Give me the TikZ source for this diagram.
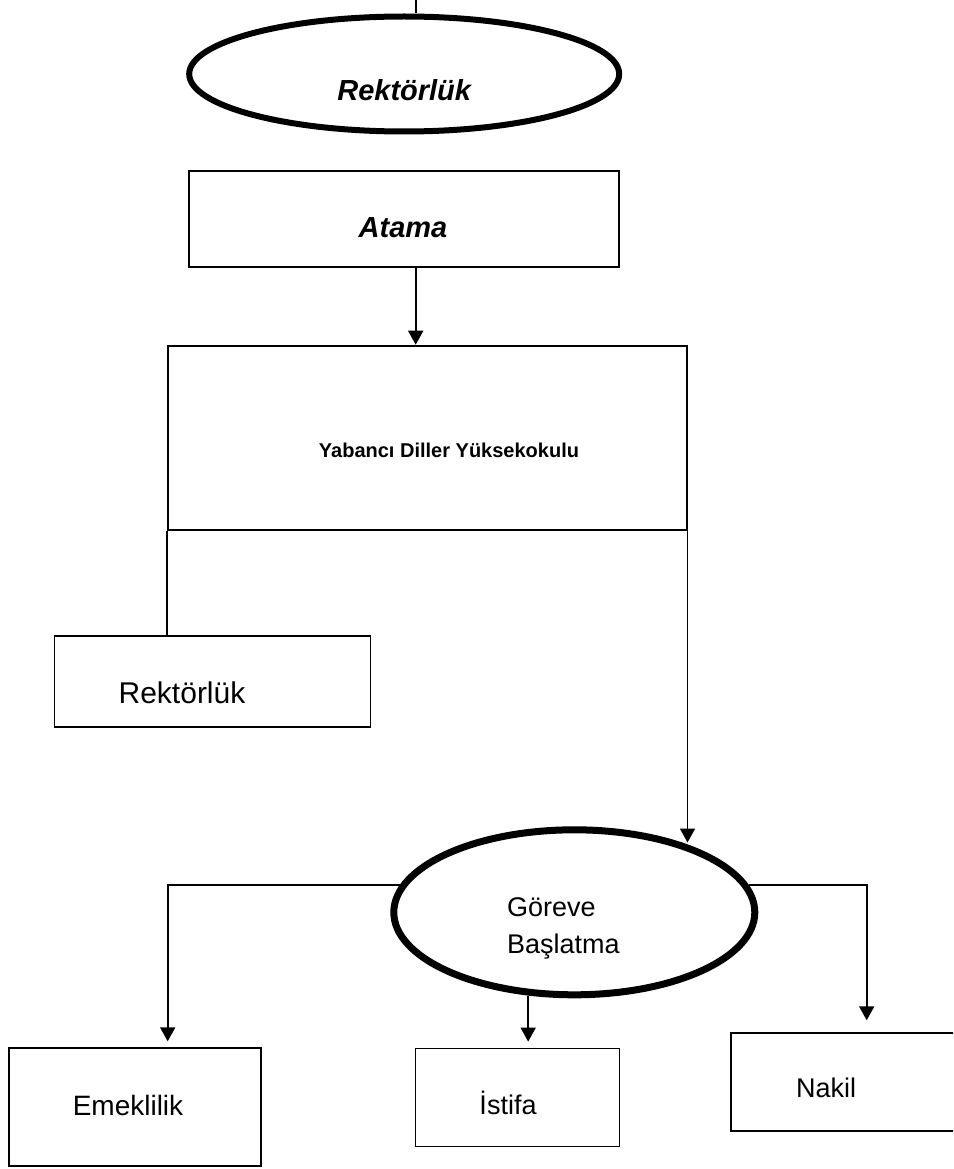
\documentclass[tikz,border=0pt]{standalone}
\usepackage{fontspec}
\setmainfont{Liberation Sans}
\usetikzlibrary{arrows.meta, positioning, shapes.geometric}

\begin{document}
\begin{tikzpicture}[
    x=1pt, y=-1pt,
    frame/.style={rectangle, draw, line width=1.8pt, inner sep=0pt},
    oval/.style={ellipse, draw, inner sep=0pt},
    txt/.style={inner sep=0pt, font=\fontsize{28pt}{37pt}\selectfont},
    hdr/.style={inner sep=0pt, font=\fontsize{29pt}{35pt}\selectfont\bfseries\itshape},
    link/.style={line width=1.8pt},
    arrow/.style={line width=1.8pt, -{Triangle[width=15pt, length=14pt]}},
  ]
    \useasboundingbox (0,0) rectangle (953,1169);
    \clip (0,0) rectangle (953,1169);

    % shapes
    \node[oval, line width=6pt, minimum width=430pt, minimum height=115pt] (rek) at (404.2,74) {};
    \node[frame, minimum width=430pt, minimum height=96pt] (atama) at (404,219) {};
    \node[frame, minimum width=519pt, minimum height=184pt] (ydk) at (427.1,437.6) {};
    \node[frame, minimum width=316pt, minimum height=91pt] (rekb) at (212.5,681.4) {};
    \node[oval, line width=7pt, minimum width=361pt, minimum height=165pt] (gb) at (574.3,912.3) {};
    \node[frame, minimum width=252pt, minimum height=118pt] (emk) at (135,1107.2) {};
    \node[frame, minimum width=204pt, minimum height=98pt] (ist) at (517.5,1097.5) {};
    \node[frame, minimum width=229pt, minimum height=98pt] (nak) at (845.5,1082.2) {};

    % texts
    \node[hdr] (rektxt) at ([yshift=-16pt]rek.center) {Rektörlük};
    \node[hdr] (atamatxt) at ([xshift=-1pt, yshift=-9pt]atama.center) {Atama};
    \node[inner sep=0pt, font=\fontsize{20pt}{24pt}\selectfont\bfseries] (ydktxt)
      at ([xshift=21.9pt, yshift=-13.1pt]ydk.center) {Yabancı Diller Yüksekokulu};
    \node[txt, font=\fontsize{30pt}{36pt}\selectfont] (rekbtxt)
      at ([xshift=-30.5pt, yshift=-11.6pt]rekb.center) {Rektörlük};
    \node[txt, font=\fontsize{27pt}{37pt}\selectfont, align=left] (gbtxt)
      at ([xshift=-11pt, yshift=-15.7pt]gb.center) {Göreve\\Başlatma};
    \node[txt] (emktxt) at ([xshift=-7pt, yshift=2.2pt]emk.center) {Emeklilik};
    \node[txt, font=\fontsize{27pt}{37pt}\selectfont] (isttxt)
      at ([xshift=-9.5pt, yshift=-5.8pt]ist.center) {İstifa};
    \node[txt, font=\fontsize{27pt}{37pt}\selectfont] (naktxt)
      at ([xshift=-19.5pt, yshift=-6.1pt]nak.center) {Nakil};

    % connectors
    \coordinate (topend) at (415.7,0);
    \draw[link] (topend) -- (topend |- rek.north);
    \draw[arrow] ([xshift=11.7pt]atama.south) -- ([xshift=11.7pt]atama.south |- ydk.north);
    \draw[link] (ydk.south west) -- (ydk.south west |- rekb.north);
    \draw[arrow] (ydk.south east) -- (ydk.south east |- gb.33);
    \draw[arrow, shorten >=6pt] (gb.171) -| ([xshift=32.7pt]emk.north);
    \draw[arrow, shorten >=6pt] (gb.241) -- (gb.241 |- ist.north);
    \draw[arrow, shorten >=12pt] (gb.9) -| ([xshift=21.2pt]nak.north);
  \end{tikzpicture}
\end{document}
